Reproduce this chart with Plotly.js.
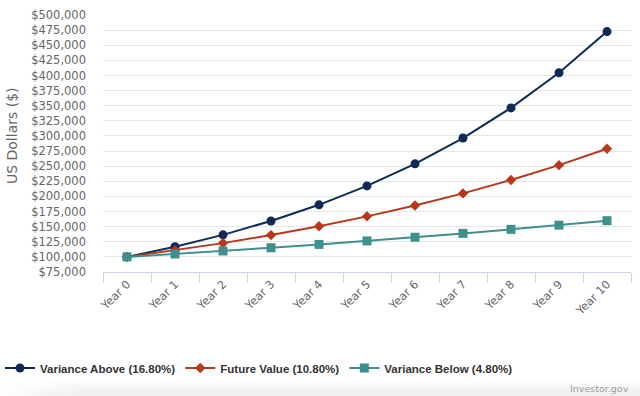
<!DOCTYPE html>
<html><head><meta charset="utf-8">
<script src="https://cdn.plot.ly/plotly-3.0.1.min.js"></script>
<style>
html,body{margin:0;padding:0;background:#fff;}
#wrap{position:relative;width:640px;height:396px;overflow:hidden;}
#shade{position:absolute;left:0;bottom:0;width:640px;height:16px;background:linear-gradient(to bottom,rgba(255,255,255,0),#ececec);}
#shade2{position:absolute;left:0;bottom:0;width:80px;height:16px;background:linear-gradient(to right,#fff,rgba(255,255,255,0));}
#chart{position:absolute;left:0;top:0;width:640px;height:396px;}
</style></head>
<body><div id="wrap"><div id="shade"></div><div id="shade2"></div><div id="chart"></div></div>
<script>
const years = ["Year 0","Year 1","Year 2","Year 3","Year 4","Year 5","Year 6","Year 7","Year 8","Year 9","Year 10"];
const varianceAbove = [100000,116800,136422,159341,186110,217377,253896,296551,346372,404563,472530];
const futureValue = [100000,110800,122766,136025,150716,166993,185028,205011,227153,251685,278867];
const varianceBelow = [100000,104800,109830,115102,120627,126417,132485,138844,145509,152493,159813];
const seriesNames = ["Variance Above (16.80%)","Future Value (10.80%)","Variance Below (4.80%)"];
const yTitle = "US Dollars ($)";
const credit = "Investor.gov";

const traces = [
  {x: years, y: varianceAbove, name: seriesNames[0], type: "scatter", mode: "lines+markers",
   line: {color: "#0f2a56", width: 2}, marker: {symbol: "circle", size: 9, color: "#0f2a56"}},
  {x: years, y: futureValue, name: seriesNames[1], type: "scatter", mode: "lines+markers",
   line: {color: "#b8381c", width: 2}, marker: {symbol: "diamond", size: 8, color: "#b8381c"}},
  {x: years, y: varianceBelow, name: seriesNames[2], type: "scatter", mode: "lines+markers",
   line: {color: "#3f8f8f", width: 2}, marker: {symbol: "square", size: 9, color: "#3f8f8f"}}
];

const layout = {
  width: 640, height: 396,
  paper_bgcolor: "rgba(0,0,0,0)", plot_bgcolor: "rgba(0,0,0,0)",
  margin: {l: 103, r: 9, t: 15, b: 124},
  font: {family: "DejaVu Sans, sans-serif", color: "#666666", size: 11},
  xaxis: {type: "category", tickson: "boundaries", ticks: "outside", ticklen: 10,
    tickcolor: "#ccd6eb", showline: true, linecolor: "#ccd6eb", linewidth: 1,
    showgrid: false, tickangle: -45, tickfont: {size: 11.5, color: "#666666"},
    range: [-0.5, 10.5], fixedrange: true, zeroline: false, automargin: false},
  yaxis: {range: [75000, 500000], dtick: 25000, tick0: 0, tickprefix: "$", tickformat: ",.0f",
    showgrid: true, gridcolor: "#e6e6e6", gridwidth: 1, zeroline: false, ticks: "",
    tickfont: {size: 11.5, color: "#666666"}, ticklabelstandoff: 16, automargin: false},
  legend: {orientation: "h", xref: "container", yref: "container", x: 0.0, xanchor: "left",
    y: 0.0707, yanchor: "middle",
    font: {family: "Liberation Sans, sans-serif", size: 11.5, color: "#333333", weight: "bold"},
    itemwidth: 30, bgcolor: "rgba(0,0,0,0)"},
  showlegend: true,
  annotations: [
    {text: yTitle, xref: "paper", yref: "paper", x: -0.1723, y: 0.529, textangle: -90,
     xanchor: "center", yanchor: "middle", showarrow: false,
     font: {family: "DejaVu Sans, sans-serif", size: 14, color: "#666666"}},
    {text: credit, xref: "paper", yref: "paper", x: 1.0, y: -0.452,
     xanchor: "right", yanchor: "middle", showarrow: false,
     font: {family: "DejaVu Sans, sans-serif", size: 9.5, color: "#999999"}}]
};
Plotly.newPlot("chart", traces, layout, {displayModeBar: false, staticPlot: true});
</script></body></html>
